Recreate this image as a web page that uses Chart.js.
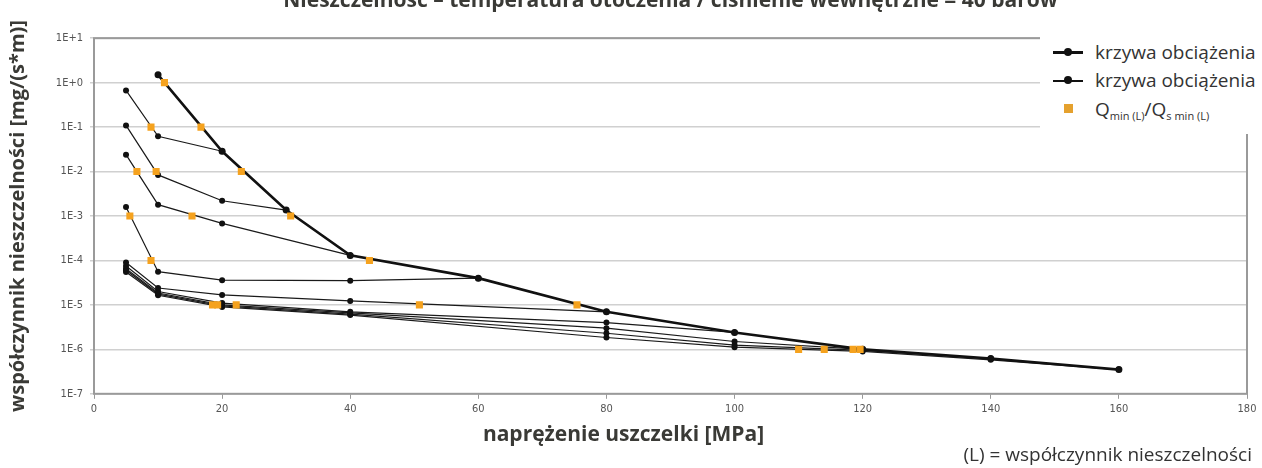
<!DOCTYPE html>
<html lang="pl">
<head>
<meta charset="utf-8">
<title>Nieszczelność</title>
<script src="https://cdn.jsdelivr.net/npm/chart.js@4.4.1/dist/chart.umd.min.js"></script>
<style>
  html, body { margin: 0; padding: 0; background: #fff; overflow: hidden; }
  body { width: 1262px; height: 468px; position: relative; font-family: 'Open Sans', sans-serif; }
  #wrap { position: absolute; left: 0; top: -14px; width: 1262px; height: 482px; }
  #legend { position: absolute; left: 1040px; top: 34px; width: 222px; height: 100px; background: #fff; color: #333; font-size: 19px; }
  .row { position: absolute; left: 0; width: 222px; height: 26px; line-height: 26px; }
  .line { position: absolute; left: 13px; width: 30px; top: 13px; background: #111; }
  .dot { position: absolute; left: 24px; width: 8px; height: 8px; top: 9px; border-radius: 50%; background: #111; }
  .sq { position: absolute; left: 24px; top: 8px; width: 9px; height: 9px; background: #e5a12e; }
  .txt { position: absolute; left: 55px; top: 0; white-space: nowrap; }
  .txt sub { font-size: 11px; vertical-align: -4px; line-height: 0; }
  #note { position: absolute; right: 10px; top: 441px; font-size: 19px; color: #333; white-space: nowrap; }
</style>
</head>
<body>
<div id="wrap"><canvas id="chart" width="1262" height="482"></canvas></div>
<div id="legend">
  <div class="row" style="top:5px"><div class="line" style="height:3px;margin-top:-1px"></div><div class="dot"></div><div class="txt">krzywa obciążenia</div></div>
  <div class="row" style="top:33px"><div class="line" style="height:1.5px"></div><div class="dot"></div><div class="txt">krzywa obciążenia</div></div>
  <div class="row" style="top:62px"><div class="sq"></div><div class="txt">Q<sub>min (L)</sub>/Q<sub>s min (L)</sub></div></div>
</div>
<div id="note">(L) = współczynnik nieszczelności</div>
<script>
// axis ticks
const xTicks = [0, 20, 40, 60, 80, 100, 120, 140, 160, 180];
const yTickValues = [1e-7, 1e-6, 1e-5, 1e-4, 1e-3, 1e-2, 1e-1, 1, 10];
const yTickLabels = ['1E-7', '1E-6', '1E-5', '1E-4', '1E-3', '1E-2', '1E-1', '1E+0', '1E+1'];

// loading curve (thick)
const loadX = [10, 20, 30, 40, 60, 80, 100, 120, 140, 160];
const loadY = [1.5, 0.0286, 0.00136, 0.00013, 4e-5, 7e-6, 2.4e-6, 1e-6, 6.2e-7, 3.5e-7];

// unloading curves (thin)
const unload20X = [5, 10, 20];
const unload20Y = [0.67, 0.062, 0.0286];
const unload30X = [5, 10, 20, 30];
const unload30Y = [0.109, 0.0084, 0.0022, 0.00136];
const unload40X = [5, 10, 20, 40];
const unload40Y = [0.024, 0.0018, 0.00068, 0.00013];
const unload60X = [5, 10, 20, 40, 60];
const unload60Y = [0.0016, 5.6e-5, 3.6e-5, 3.5e-5, 4e-5];
const unload80X = [5, 10, 20, 40, 80];
const unload80Y = [9e-5, 2.4e-5, 1.68e-5, 1.23e-5, 7e-6];
const unload100X = [5, 10, 20, 40, 80, 100];
const unload100Y = [7.5e-5, 2e-5, 1.1e-5, 7e-6, 4e-6, 2.4e-6];
const unload120X = [5, 10, 20, 40, 80, 100, 120];
const unload120Y = [6.5e-5, 1.85e-5, 1e-5, 6.6e-6, 3e-6, 1.5e-6, 1e-6];
const unload140X = [5, 10, 20, 40, 80, 100, 120, 140];
const unload140Y = [6e-5, 1.75e-5, 9.5e-6, 6.2e-6, 2.3e-6, 1.25e-6, 9.5e-7, 6.2e-7];
const unload160X = [5, 10, 20, 40, 80, 100, 120, 140, 160];
const unload160Y = [5.5e-5, 1.65e-5, 9e-6, 5.9e-6, 1.85e-6, 1.12e-6, 9e-7, 5.8e-7, 3.5e-7];

// Qmin(L) / Qsmin(L) points
const qminX = [11, 16.7, 23, 30.7, 43, 75.4, 8.9, 9.7, 6.7, 15.3, 5.6, 8.9, 50.8, 18.5, 19.3, 22.2, 110, 114, 118.5, 119.6];
const qminY = [1, 0.1, 0.01, 0.001, 1e-4, 1e-5, 0.1, 0.01, 0.01, 0.001, 0.001, 1e-4, 1e-5, 1e-5, 1e-5, 1e-5, 1e-6, 1e-6, 1e-6, 1e-6];

const pts = (xs, ys) => xs.map((x, i) => ({ x: x, y: ys[i] }));

const thin = (xs, ys) => ({
  label: 'krzywa obciążenia',
  data: pts(xs, ys),
  showLine: true,
  borderColor: '#1a1a1a',
  backgroundColor: '#111',
  borderWidth: 1.2,
  pointRadius: 3,
  pointBorderWidth: 0,
  order: 2
});

const tickFont = { family: "'Liberation Sans Narrow', 'DejaVu Sans Condensed', sans-serif", size: 11 };

// plot frame drawn around the chart area
const plotBorder = {
  id: 'plotBorder',
  beforeDatasetsDraw(chart) {
    const { ctx, chartArea: a } = chart;
    ctx.save();
    ctx.strokeStyle = '#9a9a9a';
    ctx.lineWidth = 2;
    ctx.strokeRect(a.left, a.top, a.right - a.left, a.bottom - a.top);
    ctx.restore();
  }
};

new Chart(document.getElementById('chart').getContext('2d'), {
  type: 'scatter',
  data: {
    datasets: [
      {
        label: 'Qmin(L)/Qsmin(L)',
        data: pts(qminX, qminY),
        pointStyle: 'rect',
        pointRadius: 5,
        pointBorderWidth: 0,
        backgroundColor: '#f5a21e',
        borderColor: '#f5a21e',
        showLine: false,
        order: 0
      },
      {
        label: 'krzywa obciążenia',
        data: pts(loadX, loadY),
        showLine: true,
        borderColor: '#111',
        backgroundColor: '#111',
        borderWidth: 2.6,
        pointRadius: 3.5,
        pointBorderWidth: 0,
        order: 1
      },
      thin(unload20X, unload20Y),
      thin(unload30X, unload30Y),
      thin(unload40X, unload40Y),
      thin(unload60X, unload60Y),
      thin(unload80X, unload80Y),
      thin(unload100X, unload100Y),
      thin(unload120X, unload120Y),
      thin(unload140X, unload140Y),
      thin(unload160X, unload160Y)
    ]
  },
  options: {
    responsive: false,
    animation: false,
    devicePixelRatio: 1,
    layout: { padding: { left: 0, right: 15, top: 0, bottom: 0 } },
    plugins: {
      legend: { display: false },
      tooltip: { enabled: false },
      title: {
        display: true,
        fullSize: false,
        text: 'Nieszczelność – temperatura otoczenia / ciśnienie wewnętrzne = 40 barów',
        color: '#3a3a36',
        font: { family: "'Open Sans', sans-serif", size: 21, weight: 'bold' },
        padding: { top: 2, bottom: 25 }
      },
      subtitle: {
        display: true,
        position: 'bottom',
        text: 'naprężenie uszczelki [MPa]',
        color: '#3a3a36',
        font: { family: "'Open Sans', sans-serif", size: 21, weight: 'bold' },
        padding: { top: 4, bottom: 20 }
      }
    },
    scales: {
      x: {
        type: 'linear',
        min: 0,
        max: 180,
        afterBuildTicks: s => { s.ticks = xTicks.map(v => ({ value: v })); },
        ticks: { font: tickFont, color: '#555', padding: 4 },
        grid: { drawOnChartArea: false, tickLength: 5, color: '#999' },
        border: { display: false },
        afterFit: s => { s.height = 25; s.paddingLeft = 0; s.paddingRight = 0; }
      },
      y: {
        type: 'logarithmic',
        min: 1e-7,
        max: 10,
        afterBuildTicks: s => { s.ticks = yTickValues.map(v => ({ value: v })); },
        ticks: { font: tickFont, color: '#555', padding: 7, callback: (v, i) => yTickLabels[i] },
        grid: { color: '#d0d0d0', lineWidth: 1.5, tickLength: 4 },
        border: { display: false },
        title: {
          display: true,
          text: 'współczynnik nieszczelności [mg/(s*m)]',
          color: '#3a3a36',
          font: { family: "'Open Sans', sans-serif", size: 20, weight: 'bold' },
          padding: { top: 6, bottom: 0 }
        },
        afterFit: s => { s.width = 94; s.paddingTop = 0; s.paddingBottom = 0; }
      }
    }
  },
  plugins: [plotBorder]
});
</script>
</body>
</html>
